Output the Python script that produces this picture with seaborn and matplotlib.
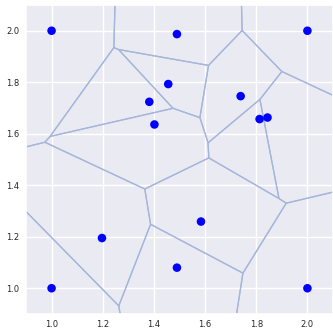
import numpy as np
import pandas as pd
import matplotlib
matplotlib.use("Agg")
import matplotlib.pyplot as plt
import seaborn as sns

sns.set_theme(style="darkgrid")

# ----------------------------
# Data (seed points)
# ----------------------------
point_x = [1.00, 1.49, 2.00, 1.456, 1.382, 1.402, 1.739, 1.813, 1.844, 1.584, 1.197, 1.490, 1.00, 2.00]
point_y = [2.00, 1.987, 2.00, 1.793, 1.724, 1.636, 1.746, 1.657, 1.663, 1.259, 1.195, 1.080, 1.00, 1.00]
ticks = [1.0, 1.2, 1.4, 1.6, 1.8, 2.0]


# ----------------------------
# Voronoi cells by half-plane clipping
# ----------------------------
def clip(poly, mid, normal):
    # keep the part of poly where (p - mid) . normal <= 0
    out = []
    n = len(poly)
    for k in range(n):
        a, b = poly[k], poly[(k + 1) % n]
        da = np.dot(a - mid, normal)
        db = np.dot(b - mid, normal)
        if da <= 0:
            out.append(a)
        if da * db < 0:
            t = da / (da - db)
            out.append(a + t * (b - a))
    return out


def voronoi_cells(pts, big=50.0):
    cells = []
    for i, p in enumerate(pts):
        poly = [np.array(v, float) for v in [(-big, -big), (big, -big), (big, big), (-big, big)]]
        for j, q in enumerate(pts):
            if i == j:
                continue
            poly = clip(poly, (p + q) / 2, q - p)
        cells.append(np.array(poly))
    return cells


pts = np.column_stack([point_x, point_y])
cells = voronoi_cells(pts)

fig = plt.figure(figsize=(3.33, 3.29), dpi=100)
ax = fig.add_axes([26 / 333, 15 / 329, 307 / 333, 309 / 329])

for cell in cells:
    closed = np.vstack([cell, cell[:1]])
    ax.plot(closed[:, 0], closed[:, 1], color="#a6b6db", lw=0.9, zorder=2)

df = pd.DataFrame({"x": point_x, "y": point_y})
sns.scatterplot(data=df, x="x", y="y", color="blue", s=38, edgecolor="none", ax=ax, zorder=3)

ax.set_xlim(0.9, 2.1)
ax.set_ylim(0.9, 2.1)
ax.set_xticks(ticks)
ax.set_yticks(ticks)
ax.set_xlabel("")
ax.set_ylabel("")
ax.tick_params(axis="x", labelsize=6, length=0, pad=4)
ax.tick_params(axis="y", labelsize=6, length=0, pad=5)

fig.savefig("out.png", dpi=100)
